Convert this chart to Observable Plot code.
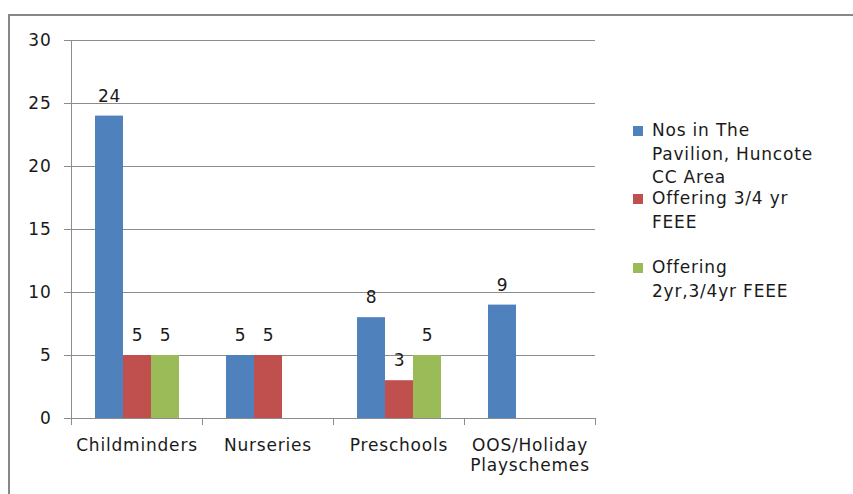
<!DOCTYPE html>
<html>
<head>
<meta charset="utf-8">
<script src="https://cdn.jsdelivr.net/npm/d3@7"></script>
<script src="https://cdn.jsdelivr.net/npm/@observablehq/plot@0.6"></script>
<style>
  html, body { margin: 0; padding: 0; background: #fff; }
  #wrap { position: relative; width: 853px; height: 494px; overflow: hidden; font-family: "DejaVu Sans", sans-serif; }
  #border { position: absolute; left: 8px; top: 14px; right: -4px; bottom: -10px; border-left: 2px solid #878787; border-top: 2px solid #878787; }
  #chart { position: absolute; left: 0; top: 0; }
  #chart svg text { letter-spacing: 0.8px; }
  .legend-item { position: absolute; left: 633px; font-size: 17px; line-height: 23.5px; color: #1a1a1a; letter-spacing: 0.8px; }
  .legend-item .swatch { position: absolute; left: 0; top: 7px; width: 10px; height: 10px; }
  .legend-item .label { margin-left: 19px; white-space: pre; }
</style>
</head>
<body>
<div id="wrap">
  <div id="border"></div>
  <div id="chart"></div>
  <div id="legend"></div>
</div>
<script>
// ---- data ----
const categories = ["Childminders", "Nurseries", "Preschools", "OOS/Holiday Playschemes"];
const categoryLabels = ["Childminders", "Nurseries", "Preschools", "OOS/Holiday\nPlayschemes"];
const seriesNames = ["Nos in The Pavilion, Huncote CC Area", "Offering 3/4 yr FEEE", "Offering 2yr,3/4yr FEEE"];
const legendLabels = ["Nos in The\nPavilion, Huncote\nCC Area", "Offering 3/4 yr\nFEEE", "Offering\n2yr,3/4yr FEEE"];
const pavilion = [24, 5, 8, 9];
const offering34 = [5, 5, 3, null];
const offering2yr34 = [5, null, 5, null];
const yTicks = [0, 5, 10, 15, 20, 25, 30];
const colors = ["#4F81BD", "#C0504D", "#9BBB59"];

const seriesValues = [pavilion, offering34, offering2yr34];
const rows = [];
categories.forEach((c, i) => {
  seriesNames.forEach((s, j) => {
    const v = seriesValues[j][i];
    if (v != null) rows.push({category: c, series: s, value: v});
  });
});
const labelOf = new Map(categories.map((c, i) => [c, categoryLabels[i]]));

const gridColor = "#8c8c8c";
const textColor = "#1a1a1a";

const chart = Plot.plot({
  width: 853,
  height: 494,
  marginLeft: 70,
  marginRight: 257,
  marginTop: 40,
  marginBottom: 76,
  style: {fontFamily: "DejaVu Sans, sans-serif", fontSize: "17px", color: textColor, background: "transparent", overflow: "visible"},
  fx: {domain: categories, padding: 0, label: null},
  x: {domain: seriesNames, paddingInner: 0, paddingOuter: 0.767, axis: null},
  y: {domain: [0, 30], label: null},
  color: {domain: seriesNames, range: colors},
  marks: [
    Plot.gridY(yTicks, {stroke: gridColor, strokeOpacity: 1}),
    Plot.barY(rows, {fx: "category", x: "series", y: "value", fill: "series"}),
    Plot.text(rows, {fx: "category", x: "series", y: "value", text: d => String(d.value), dy: -20, fill: textColor, fontSize: 17}),
    Plot.axisY(yTicks, {tickSize: 7, tickPadding: 13, stroke: gridColor, strokeOpacity: 1, fill: textColor, fontSize: 17, label: null}),
    Plot.axisFx({anchor: "bottom", tickSize: 0, tickPadding: 19, tickFormat: c => labelOf.get(c), fill: textColor, fontSize: 17, lineHeight: 1.15, label: null})
  ]
});
document.getElementById("chart").appendChild(chart);

// category boundary ticks and left axis line, placed with the plot's own scales
const fx = chart.scale("fx");
const y = chart.scale("y");
const y0 = y.apply(0), yTop = y.apply(30);
const bounds = categories.map(c => fx.apply(c));
bounds.push(fx.apply(categories[categories.length - 1]) + fx.bandwidth);
const g = d3.select(chart).append("g").attr("stroke", gridColor).attr("stroke-width", 1);
g.append("line").attr("x1", bounds[0] + 0.5).attr("x2", bounds[0] + 0.5).attr("y1", yTop).attr("y2", y0 + 7);
g.selectAll("line.tk").data(bounds).join("line").attr("class", "tk")
  .attr("x1", d => Math.round(d) + 0.5).attr("x2", d => Math.round(d) + 0.5)
  .attr("y1", y0).attr("y2", y0 + 7);

// legend
const legendTops = [119, 187, 256];
const legend = document.getElementById("legend");
seriesNames.forEach((s, i) => {
  const item = document.createElement("div");
  item.className = "legend-item";
  item.style.top = legendTops[i] + "px";
  const sw = document.createElement("span");
  sw.className = "swatch";
  sw.style.background = colors[i];
  const lab = document.createElement("div");
  lab.className = "label";
  lab.textContent = legendLabels[i];
  item.appendChild(sw);
  item.appendChild(lab);
  legend.appendChild(item);
});
</script>
</body>
</html>
